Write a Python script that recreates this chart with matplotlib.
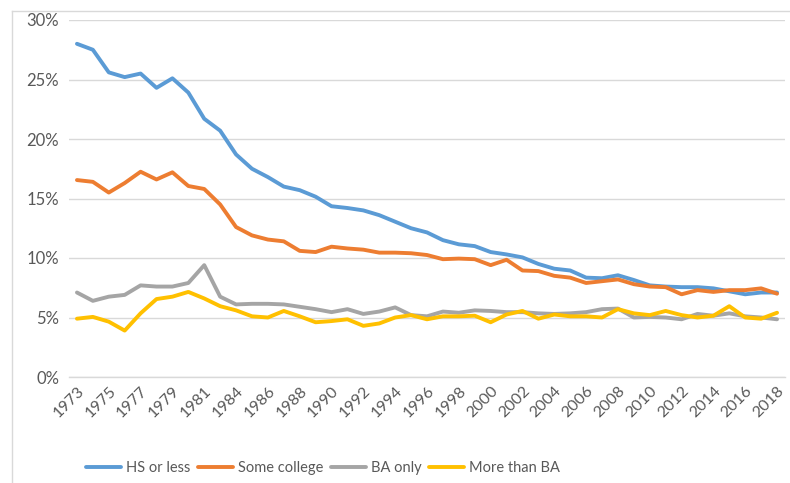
import matplotlib
matplotlib.use("Agg")
import matplotlib.pyplot as plt
from matplotlib.lines import Line2D
from matplotlib.ticker import FuncFormatter

years = [1973, 1974, 1975, 1976, 1977, 1978, 1979, 1980, 1981, 1983,
         1984, 1985, 1986, 1987, 1988, 1989, 1990, 1991, 1992, 1993,
         1994, 1995, 1996, 1997, 1998, 1999, 2000, 2001, 2002, 2003,
         2004, 2005, 2006, 2007, 2008, 2009, 2010, 2011, 2012, 2013,
         2014, 2015, 2016, 2017, 2018]

hs_or_less = [28.0, 27.5, 25.6, 25.2, 25.5, 24.3, 25.1, 23.9, 21.7, 20.7,
              18.7, 17.5, 16.8, 16.0, 15.7, 15.15, 14.35, 14.2, 14.0, 13.6,
              13.05, 12.5, 12.15, 11.5, 11.15, 11.0, 10.5, 10.3, 10.05, 9.5,
              9.1, 8.95, 8.35, 8.3, 8.55, 8.15, 7.7, 7.6, 7.55, 7.55,
              7.45, 7.2, 6.95, 7.1, 7.1]

some_college = [16.55, 16.4, 15.5, 16.3, 17.25, 16.6, 17.2, 16.05, 15.8, 14.5,
                12.6, 11.9, 11.55, 11.4, 10.6, 10.5, 10.95, 10.8, 10.7, 10.45,
                10.45, 10.4, 10.25, 9.9, 9.95, 9.9, 9.4, 9.85, 8.95, 8.9,
                8.5, 8.35, 7.9, 8.05, 8.2, 7.8, 7.6, 7.55, 6.95, 7.3,
                7.15, 7.3, 7.3, 7.45, 7.0]

ba_only = [7.1, 6.4, 6.75, 6.9, 7.7, 7.6, 7.6, 7.9, 9.4, 6.75,
           6.1, 6.15, 6.15, 6.1, 5.9, 5.7, 5.45, 5.7, 5.3, 5.5,
           5.85, 5.2, 5.1, 5.5, 5.4, 5.6, 5.55, 5.45, 5.45, 5.35,
           5.3, 5.35, 5.45, 5.7, 5.75, 5.0, 5.05, 5.0, 4.85, 5.3,
           5.15, 5.35, 5.1, 5.0, 4.85]

more_than_ba = [4.9, 5.05, 4.65, 3.9, 5.35, 6.55, 6.75, 7.15, 6.6, 5.95,
                5.6, 5.1, 5.0, 5.55, 5.1, 4.6, 4.7, 4.85, 4.3, 4.5,
                5.0, 5.2, 4.85, 5.1, 5.1, 5.15, 4.6, 5.25, 5.55, 4.9,
                5.25, 5.1, 5.1, 5.0, 5.7, 5.35, 5.2, 5.55, 5.2, 5.0,
                5.15, 5.95, 5.0, 4.9, 5.4]

series_names = ["HS or less", "Some college", "BA only", "More than BA"]
series_values = [hs_or_less, some_college, ba_only, more_than_ba]
colors = ["#5B9BD5", "#ED7D31", "#A5A5A5", "#FFC000"]

plt.rcParams['font.family'] = ['Lato', 'DejaVu Sans']

fig = plt.figure(figsize=(7.9, 4.83), dpi=100)
ax = fig.add_axes([69/790, 1 - 377/483, (785 - 69)/790, (377 - 20)/483])

x = list(range(len(years)))
handles = []
for name, vals, c in zip(series_names, series_values, colors):
    ln, = ax.plot(x, vals, color=c, lw=2.8, solid_joinstyle='round',
                  solid_capstyle='round', label=name, zorder=3)
    handles.append(ln)

ax.set_xlim(-0.5, len(years) - 0.5)
ax.set_ylim(0, 30)
ax.set_yticks([0, 5, 10, 15, 20, 25, 30])
ax.yaxis.set_major_formatter(FuncFormatter(lambda v, p: f"{int(v)}%"))
ax.grid(axis='y', color='#D9D9D9', lw=1.0, zorder=0)
ax.set_axisbelow(True)
for s in ['top', 'right', 'left']:
    ax.spines[s].set_visible(False)
ax.spines['bottom'].set_color('#D9D9D9')
ax.spines['bottom'].set_linewidth(1.0)

ax.set_xticks(x[::2])
ax.set_xticklabels([str(y) for y in years[::2]], rotation=45, ha='right',
                   rotation_mode='anchor', fontsize=11.5, color='#595959')
ax.tick_params(axis='x', length=0, pad=5)
ax.tick_params(axis='y', length=0, pad=7, labelsize=12, labelcolor='#595959')

leg = fig.legend(handles=handles, loc='center', bbox_to_anchor=(323/790, 1 - 468/483),
                 ncol=4, frameon=False, fontsize=10.5, handlelength=2.4,
                 columnspacing=0.5, handletextpad=0.35)
for t in leg.get_texts():
    t.set_color('#595959')

# chart area border (top and left)
fig.add_artist(Line2D([12/790, 1], [1 - 11/483, 1 - 11/483], color='#D9D9D9', lw=1.0,
                      transform=fig.transFigure))
fig.add_artist(Line2D([12/790, 12/790], [0, 1 - 11/483], color='#D9D9D9', lw=1.0,
                      transform=fig.transFigure))

fig.savefig("out.png", dpi=100)
